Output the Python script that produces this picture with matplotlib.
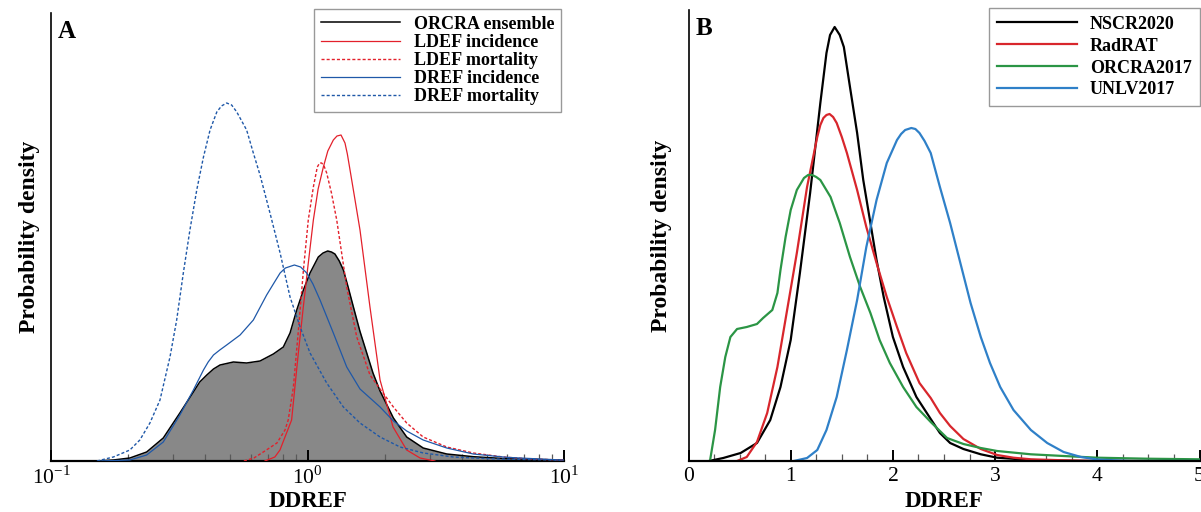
import matplotlib
matplotlib.use("Agg")
import matplotlib.pyplot as plt
from matplotlib.ticker import FixedLocator, LogLocator, MultipleLocator, NullFormatter

plt.rcParams["font.family"] = ["Liberation Serif", "DejaVu Serif"]
plt.rcParams["mathtext.fontset"] = "custom"
plt.rcParams["mathtext.rm"] = "Liberation Serif"

# ---- panel A: DDREF on log scale, density in arbitrary units ----
ens_x = [0.150, 0.175, 0.203, 0.236, 0.274, 0.318, 0.359, 0.38, 0.405, 0.43, 0.456, 0.514,
         0.579, 0.653, 0.736, 0.805, 0.855, 0.908, 0.964, 1.023, 1.102, 1.15, 1.199, 1.24,
         1.279, 1.33, 1.380, 1.44, 1.510, 1.60, 1.702, 1.80, 1.918, 2.162, 2.436, 2.825,
         3.49, 4.43, 5.97, 9.64, 10.0]
ens_y = [0.0, 0.01, 0.03, 0.09, 0.23, 0.48, 0.69, 0.79, 0.86, 0.92, 0.96, 0.99,
         0.98, 1.00, 1.07, 1.14, 1.28, 1.51, 1.71, 1.88, 2.04, 2.08, 2.10, 2.09,
         2.07, 2.00, 1.91, 1.74, 1.54, 1.30, 1.08, 0.88, 0.70, 0.43, 0.24, 0.13,
         0.07, 0.043, 0.023, 0.01, 0.01]

ldef_inc_x = [0.682, 0.746, 0.781, 0.867, 0.921, 0.964, 1.004, 1.054, 1.10, 1.153, 1.20,
              1.261, 1.303, 1.351, 1.400, 1.43, 1.465, 1.53, 1.602, 1.752, 1.918, 2.155,
              2.436, 2.746, 3.14]
ldef_inc_y = [0.0, 0.04, 0.11, 0.41, 1.08, 1.55, 1.95, 2.41, 2.72, 2.94, 3.10,
              3.21, 3.25, 3.26, 3.18, 3.07, 2.91, 2.62, 2.31, 1.54, 0.81, 0.34,
              0.11, 0.03, 0.0]

ldef_mort_x = [0.565, 0.618, 0.682, 0.760, 0.817, 0.841, 0.881, 0.929, 0.964, 1.007, 1.054,
               1.092, 1.115, 1.136, 1.16, 1.188, 1.24, 1.300, 1.422, 1.556, 1.752, 1.918,
               2.162, 2.436, 2.825, 3.49, 4.43, 5.80, 7.36, 10.0]
ldef_mort_y = [0.0, 0.03, 0.10, 0.18, 0.31, 0.41, 0.74, 1.41, 1.91, 2.41, 2.74,
               2.94, 2.98, 2.98, 2.95, 2.88, 2.68, 2.41, 1.74, 1.24, 0.86, 0.72,
               0.54, 0.38, 0.24, 0.14, 0.08, 0.04, 0.02, 0.01]

dref_inc_x = [0.155, 0.203, 0.236, 0.274, 0.318, 0.359, 0.393, 0.41, 0.430, 0.455, 0.484,
              0.546, 0.615, 0.693, 0.74, 0.782, 0.82, 0.889, 0.94, 0.993, 1.05, 1.119,
              1.261, 1.422, 1.602, 1.918, 2.162, 2.436, 2.825, 3.49, 4.43, 5.97, 9.64, 10.0]
dref_inc_y = [0.0, 0.01, 0.06, 0.19, 0.46, 0.71, 0.91, 0.99, 1.06, 1.11, 1.16,
              1.26, 1.41, 1.66, 1.78, 1.88, 1.93, 1.96, 1.94, 1.88, 1.77, 1.61,
              1.28, 0.94, 0.72, 0.54, 0.40, 0.30, 0.21, 0.13, 0.07, 0.037, 0.01, 0.01]

dref_mort_x = [0.151, 0.175, 0.203, 0.222, 0.243, 0.266, 0.291, 0.309, 0.328, 0.348, 0.370,
               0.393, 0.417, 0.443, 0.462, 0.484, 0.506, 0.530, 0.579, 0.615, 0.653, 0.714,
               0.782, 0.855, 0.936, 1.023, 1.188, 1.380, 1.602, 1.918, 2.296, 2.829, 3.70,
               5.47, 9.64]
dref_mort_y = [0.0, 0.04, 0.11, 0.21, 0.38, 0.61, 1.04, 1.41, 1.88, 2.31, 2.71,
               3.04, 3.31, 3.49, 3.55, 3.58, 3.56, 3.49, 3.31, 3.08, 2.86, 2.48,
               2.08, 1.64, 1.34, 1.08, 0.78, 0.54, 0.38, 0.24, 0.14, 0.08, 0.04,
               0.02, 0.01]

# ---- panel B: DDREF on linear scale ----
nscr_x = [0.20, 0.34, 0.51, 0.67, 0.80, 0.90, 1.00, 1.09, 1.19, 1.29, 1.35, 1.385, 1.43,
          1.48, 1.52, 1.58, 1.65, 1.71, 1.78, 1.84, 1.91, 2.00, 2.10, 2.23, 2.37, 2.46,
          2.56, 2.69, 2.86, 3.02, 3.35, 3.7, 4.0, 5.0]
nscr_y = [0.0, 0.03, 0.08, 0.18, 0.41, 0.74, 1.21, 1.88, 2.68, 3.58, 4.08, 4.26, 4.34,
          4.26, 4.14, 3.74, 3.28, 2.81, 2.38, 2.01, 1.64, 1.24, 0.94, 0.64, 0.42, 0.28,
          0.18, 0.12, 0.067, 0.033, 0.01, 0.003, 0.0, 0.0]

radrat_x = [0.475, 0.57, 0.67, 0.77, 0.87, 0.96, 1.06, 1.16, 1.26, 1.29, 1.32, 1.35, 1.38,
            1.415, 1.45, 1.50, 1.55, 1.65, 1.74, 1.84, 1.94, 2.04, 2.13, 2.26, 2.37, 2.46,
            2.56, 2.69, 2.86, 3.02, 3.18, 3.35, 3.67, 4.0, 5.0]
radrat_y = [0.0, 0.04, 0.19, 0.48, 0.94, 1.48, 2.08, 2.74, 3.24, 3.36, 3.43, 3.46, 3.47,
            3.44, 3.38, 3.24, 3.08, 2.71, 2.34, 1.98, 1.64, 1.34, 1.08, 0.78, 0.63, 0.48,
            0.35, 0.22, 0.12, 0.06, 0.033, 0.017, 0.007, 0.0, 0.0]

orcra_x = [0.21, 0.26, 0.31, 0.36, 0.41, 0.475, 0.57, 0.67, 0.73, 0.82, 0.87, 0.90, 0.95,
           1.00, 1.06, 1.13, 1.17, 1.21, 1.25, 1.29, 1.39, 1.48, 1.58, 1.68, 1.78, 1.87,
           1.97, 2.10, 2.23, 2.37, 2.53, 2.69, 2.86, 3.02, 3.35, 3.67, 4.0, 4.49, 5.0]
orcra_y = [0.0, 0.31, 0.74, 1.04, 1.24, 1.32, 1.34, 1.37, 1.43, 1.51, 1.68, 1.91, 2.24,
           2.51, 2.71, 2.83, 2.86, 2.86, 2.84, 2.81, 2.64, 2.38, 2.04, 1.74, 1.48, 1.21,
           0.98, 0.74, 0.54, 0.39, 0.23, 0.17, 0.13, 0.10, 0.067, 0.05, 0.033, 0.023, 0.017]

unlv_x = [1.03, 1.16, 1.26, 1.35, 1.45, 1.55, 1.65, 1.74, 1.84, 1.94, 2.04, 2.08, 2.12,
          2.18, 2.22, 2.26, 2.31, 2.37, 2.46, 2.56, 2.66, 2.76, 2.86, 2.95, 3.05, 3.18,
          3.35, 3.51, 3.67, 3.84, 4.0, 4.33, 5.0]
unlv_y = [0.0, 0.03, 0.11, 0.31, 0.64, 1.11, 1.61, 2.14, 2.61, 2.98, 3.21, 3.27, 3.31,
          3.33, 3.32, 3.28, 3.20, 3.08, 2.74, 2.38, 1.98, 1.58, 1.24, 0.98, 0.74, 0.51,
          0.31, 0.18, 0.09, 0.04, 0.015, 0.0, 0.0]

RED_A = "#e3202b"
BLUE_A = "#1f58a8"
DOT = (0, (2.2, 1.5))

fig = plt.figure(figsize=(12.01, 5.12), dpi=100)
axA = fig.add_axes([51 / 1201, 51 / 512, 513 / 1201, 448 / 512])
axB = fig.add_axes([688.5 / 1201, 51 / 512, 511 / 1201, 451 / 512])

# Panel A
axA.fill_between(ens_x, ens_y, color="#888888", lw=0, zorder=1)
axA.plot(ens_x, ens_y, color="black", lw=1.1, label="ORCRA ensemble", zorder=3)
axA.plot(ldef_inc_x, ldef_inc_y, color=RED_A, lw=0.9, label="LDEF incidence", zorder=4)
axA.plot(ldef_mort_x, ldef_mort_y, color=RED_A, lw=1.0, ls=DOT, label="LDEF mortality", zorder=4)
axA.plot(dref_inc_x, dref_inc_y, color=BLUE_A, lw=0.9, label="DREF incidence", zorder=4)
axA.plot(dref_mort_x, dref_mort_y, color=BLUE_A, lw=1.0, ls=DOT, label="DREF mortality", zorder=4)

axA.set_xscale("log")
axA.set_xlim(0.1, 10)
axA.set_ylim(0, 4.48)
axA.xaxis.set_major_locator(FixedLocator([0.1, 1, 10]))
axA.set_xticklabels([r"$10^{-1}$", r"$10^{0}$", r"$10^{1}$"])
axA.xaxis.set_minor_locator(LogLocator(base=10, subs=range(2, 10)))
axA.xaxis.set_minor_formatter(NullFormatter())

# Panel B
axB.plot(nscr_x, nscr_y, color="black", lw=1.6, label="NSCR2020")
axB.plot(radrat_x, radrat_y, color="#d8262c", lw=1.6, label="RadRAT")
axB.plot(orcra_x, orcra_y, color="#2b9545", lw=1.6, label="ORCRA2017")
axB.plot(unlv_x, unlv_y, color="#2f80c8", lw=1.6, label="UNLV2017")
axB.set_xlim(0, 5)
axB.set_ylim(0, 4.51)
axB.xaxis.set_major_locator(MultipleLocator(1))
axB.xaxis.set_minor_locator(MultipleLocator(0.25))

for ax, letter, lx, ly in [(axA, "A", -0.021, -0.068), (axB, "B", -0.032, -0.0675)]:
    ax.spines["top"].set_visible(False)
    ax.spines["right"].set_visible(False)
    ax.spines["left"].set_linewidth(1.2)
    ax.spines["bottom"].set_linewidth(1.6)
    ax.set_yticks([])
    ax.tick_params(axis="x", which="major", direction="in", length=8, width=1.4,
                   labelsize=15.5, pad=4)
    ax.tick_params(axis="x", which="minor", direction="in", length=5, width=0.9,
                   color="0.35")
    ax.set_xlabel("DDREF", fontsize=16.5, fontweight="bold")
    ax.xaxis.set_label_coords(0.5, ly)
    ax.set_ylabel("Probability density", fontsize=17, fontweight="bold")
    ax.yaxis.set_label_coords(lx, 0.5)
    ax.text(0.013, 0.985, letter, transform=ax.transAxes, fontsize=18,
            fontweight="bold", va="top", ha="left")

legA = axA.legend(loc="upper right", bbox_to_anchor=(0.995, 1.01), borderaxespad=0,
                  prop={"size": 13, "weight": "bold"}, handlelength=4.4,
                  handletextpad=0.75, labelspacing=0.06, borderpad=0.4,
                  fancybox=False, framealpha=1)
legA.get_frame().set_edgecolor("#999999")
legA.get_frame().set_linewidth(1.0)

legB = axB.legend(loc="upper right", bbox_to_anchor=(1.0, 1.004), borderaxespad=0,
                  prop={"size": 13, "weight": "bold"}, handlelength=4.4,
                  handletextpad=0.75, labelspacing=0.27, borderpad=0.42,
                  fancybox=False, framealpha=1)
legB.get_frame().set_edgecolor("#999999")
legB.get_frame().set_linewidth(1.0)

fig.savefig("out.png", dpi=100)
